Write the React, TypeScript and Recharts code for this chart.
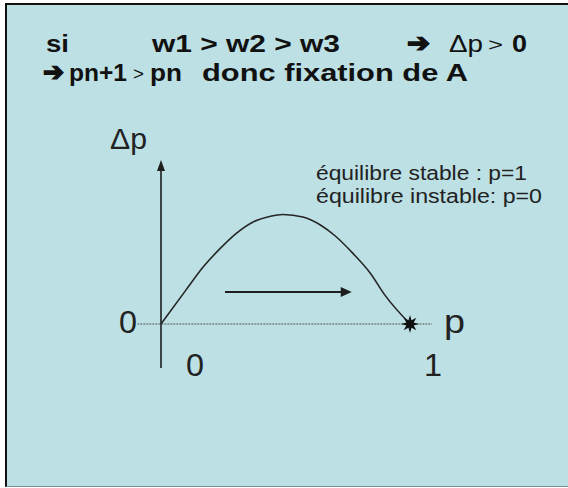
import React from 'react';
import { ComposedChart, Line, Scatter, XAxis, YAxis, ReferenceLine } from 'recharts';

// curve Δp = f(p)
const pValues = [0, 0.1, 0.17, 0.24, 0.3, 0.37, 0.44, 0.49, 0.57, 0.64, 0.7, 0.77, 0.84, 0.9, 1];
const deltaP = [0, 0.077, 0.13, 0.173, 0.205, 0.232, 0.245, 0.249, 0.243, 0.225, 0.2, 0.161, 0.116, 0.065, 0];

// stable equilibrium point
const stableP = [1];
const stableDelta = [0];

// direction arrow (p increases)
const arrowP = [0.257, 0.766];
const arrowLevel = [0.073, 0.073];

// axes extents
const xAxisExtent = [-0.095, 1.088];
const yAxisExtent = [-0.1, 0.3727];

const titleLine1 = ['si', 'w1 > w2 > w3', '➔', 'Δp', '>', '0'];
const titleLine2 = ['➔', 'pn+1', '>', 'pn', 'donc fixation de A'];
const notes = ['équilibre stable : p=1', 'équilibre instable: p=0'];
const axisLabels = ['Δp', '0', '0', '1', 'p'];

const curveData = pValues.map((p, i) => ({ p, dp: deltaP[i] }));
const stableData = stableP.map((p, i) => ({ p, dp: stableDelta[i] }));

const FONT = "'Liberation Sans', Arial, sans-serif";
const ARROW_FONT = "'DejaVu Sans', sans-serif";
const BG = '#bce0e4';

const VerticalAxisShape = (props: any) => {
  const { x1, y1, x2, y2 } = props;
  return (
    <g>
      <line x1={x1} y1={y1} x2={x2} y2={y2 + 9} stroke="#1e1e1e" strokeWidth={1.6} />
      <polygon points={`${x2},${y2} ${x2 - 4},${y2 + 11} ${x2 + 4},${y2 + 11}`} fill="#1e1e1e" />
    </g>
  );
};

const HorizontalArrowShape = (props: any) => {
  const { x1, y1, x2, y2 } = props;
  return (
    <g>
      <line x1={x1} y1={y1} x2={x2 - 9} y2={y2} stroke="#1e1e1e" strokeWidth={2} />
      <polygon points={`${x2},${y2} ${x2 - 11},${y2 - 5} ${x2 - 11},${y2 + 5}`} fill="#1e1e1e" />
    </g>
  );
};

const StarShape = (props: any) => {
  const { cx, cy } = props;
  const pts: string[] = [];
  const n = 8;
  for (let i = 0; i < n * 2; i++) {
    const r = i % 2 === 0 ? 9 : 4;
    const a = (Math.PI * i) / n - Math.PI / 2;
    pts.push(`${cx + r * Math.cos(a)},${cy + r * Math.sin(a)}`);
  }
  return <polygon points={pts.join(' ')} fill="#111" />;
};

export default function App() {
  return (
    <div style={{ position: 'absolute', left: 0, top: 0, width: 568, height: 488, background: '#ffffff', overflow: 'hidden' }}>
      <div
        style={{
          position: 'absolute',
          left: 5,
          top: 3,
          width: 563,
          height: 484,
          background: BG,
          borderLeft: '2px solid #111',
          borderTop: '2px solid #111',
          borderBottom: '1px solid #7f8f90',
          boxSizing: 'border-box',
        }}
      />
      <div style={{ position: 'absolute', left: 0, top: 0 }}>
        <ComposedChart width={568} height={488} data={curveData} margin={{ top: 156.8, right: 133.1, bottom: 120, left: 136.1 }}>
          <XAxis dataKey="p" type="number" domain={[-0.1, 1.1]} hide allowDataOverflow />
          <YAxis type="number" domain={[-0.1, 0.38]} hide allowDataOverflow />
          <ReferenceLine
            segment={[{ x: xAxisExtent[0], y: 0 }, { x: xAxisExtent[1], y: 0 }]}
            stroke="#555"
            strokeWidth={1}
            strokeDasharray="2 1"
          />
          <ReferenceLine
            segment={[{ x: 0, y: yAxisExtent[0] }, { x: 0, y: yAxisExtent[1] }]}
            shape={VerticalAxisShape}
          />
          <ReferenceLine
            segment={[{ x: arrowP[0], y: arrowLevel[0] }, { x: arrowP[1], y: arrowLevel[1] }]}
            shape={HorizontalArrowShape}
          />
          <Line
            dataKey="dp"
            type="monotone"
            stroke="#262626"
            strokeWidth={1.6}
            dot={false}
            isAnimationActive={false}
          />
          <Scatter data={stableData} dataKey="dp" shape={StarShape} isAnimationActive={false} />
        </ComposedChart>
      </div>
      <svg width={568} height={488} style={{ position: 'absolute', left: 0, top: 0, pointerEvents: 'none' }}>
        <g fill="#111" fontFamily={FONT}>
          <text x={46} y={52} fontSize={24} fontWeight="bold" textLength={23} lengthAdjust="spacingAndGlyphs">{titleLine1[0]}</text>
          <text x={152} y={52} fontSize={24} fontWeight="bold" textLength={188} lengthAdjust="spacingAndGlyphs">{titleLine1[1]}</text>
          <text x={407} y={52} fontSize={26} fontWeight="bold" fontFamily={ARROW_FONT} stroke="#111" strokeWidth={1.5} textLength={23} lengthAdjust="spacingAndGlyphs">{titleLine1[2]}</text>
          <text x={449} y={52} fontSize={24} textLength={34} lengthAdjust="spacingAndGlyphs">{titleLine1[3]}</text>
          <text x={488} y={51} fontSize={19} textLength={15} lengthAdjust="spacingAndGlyphs">{titleLine1[4]}</text>
          <text x={512} y={52} fontSize={24} fontWeight="bold" textLength={15} lengthAdjust="spacingAndGlyphs">{titleLine1[5]}</text>

          <text x={43} y={81} fontSize={26} fontWeight="bold" fontFamily={ARROW_FONT} stroke="#111" strokeWidth={1.5} textLength={21} lengthAdjust="spacingAndGlyphs">{titleLine2[0]}</text>
          <text x={69} y={81} fontSize={24} fontWeight="bold" textLength={58} lengthAdjust="spacingAndGlyphs">{titleLine2[1]}</text>
          <text x={133} y={80} fontSize={19} textLength={11} lengthAdjust="spacingAndGlyphs">{titleLine2[2]}</text>
          <text x={150} y={81} fontSize={24} fontWeight="bold" textLength={32} lengthAdjust="spacingAndGlyphs">{titleLine2[3]}</text>
          <text x={202} y={81} fontSize={24} fontWeight="bold" textLength={266} lengthAdjust="spacingAndGlyphs">{titleLine2[4]}</text>
        </g>
        <g fill="#222" fontFamily={FONT}>
          <text x={316} y={180} fontSize={20} textLength={211} lengthAdjust="spacingAndGlyphs">{notes[0]}</text>
          <text x={316} y={203} fontSize={20} textLength={226} lengthAdjust="spacingAndGlyphs">{notes[1]}</text>
          <text x={110} y={149} fontSize={30} textLength={37} lengthAdjust="spacingAndGlyphs">{axisLabels[0]}</text>
          <text x={119} y={333} fontSize={31} textLength={18} lengthAdjust="spacingAndGlyphs">{axisLabels[1]}</text>
          <text x={186} y={376} fontSize={31} textLength={18} lengthAdjust="spacingAndGlyphs">{axisLabels[2]}</text>
          <text x={424} y={376} fontSize={31} textLength={18} lengthAdjust="spacingAndGlyphs">{axisLabels[3]}</text>
          <text x={444} y={333} fontSize={33} textLength={21} lengthAdjust="spacingAndGlyphs">{axisLabels[4]}</text>
        </g>
      </svg>
    </div>
  );
}
